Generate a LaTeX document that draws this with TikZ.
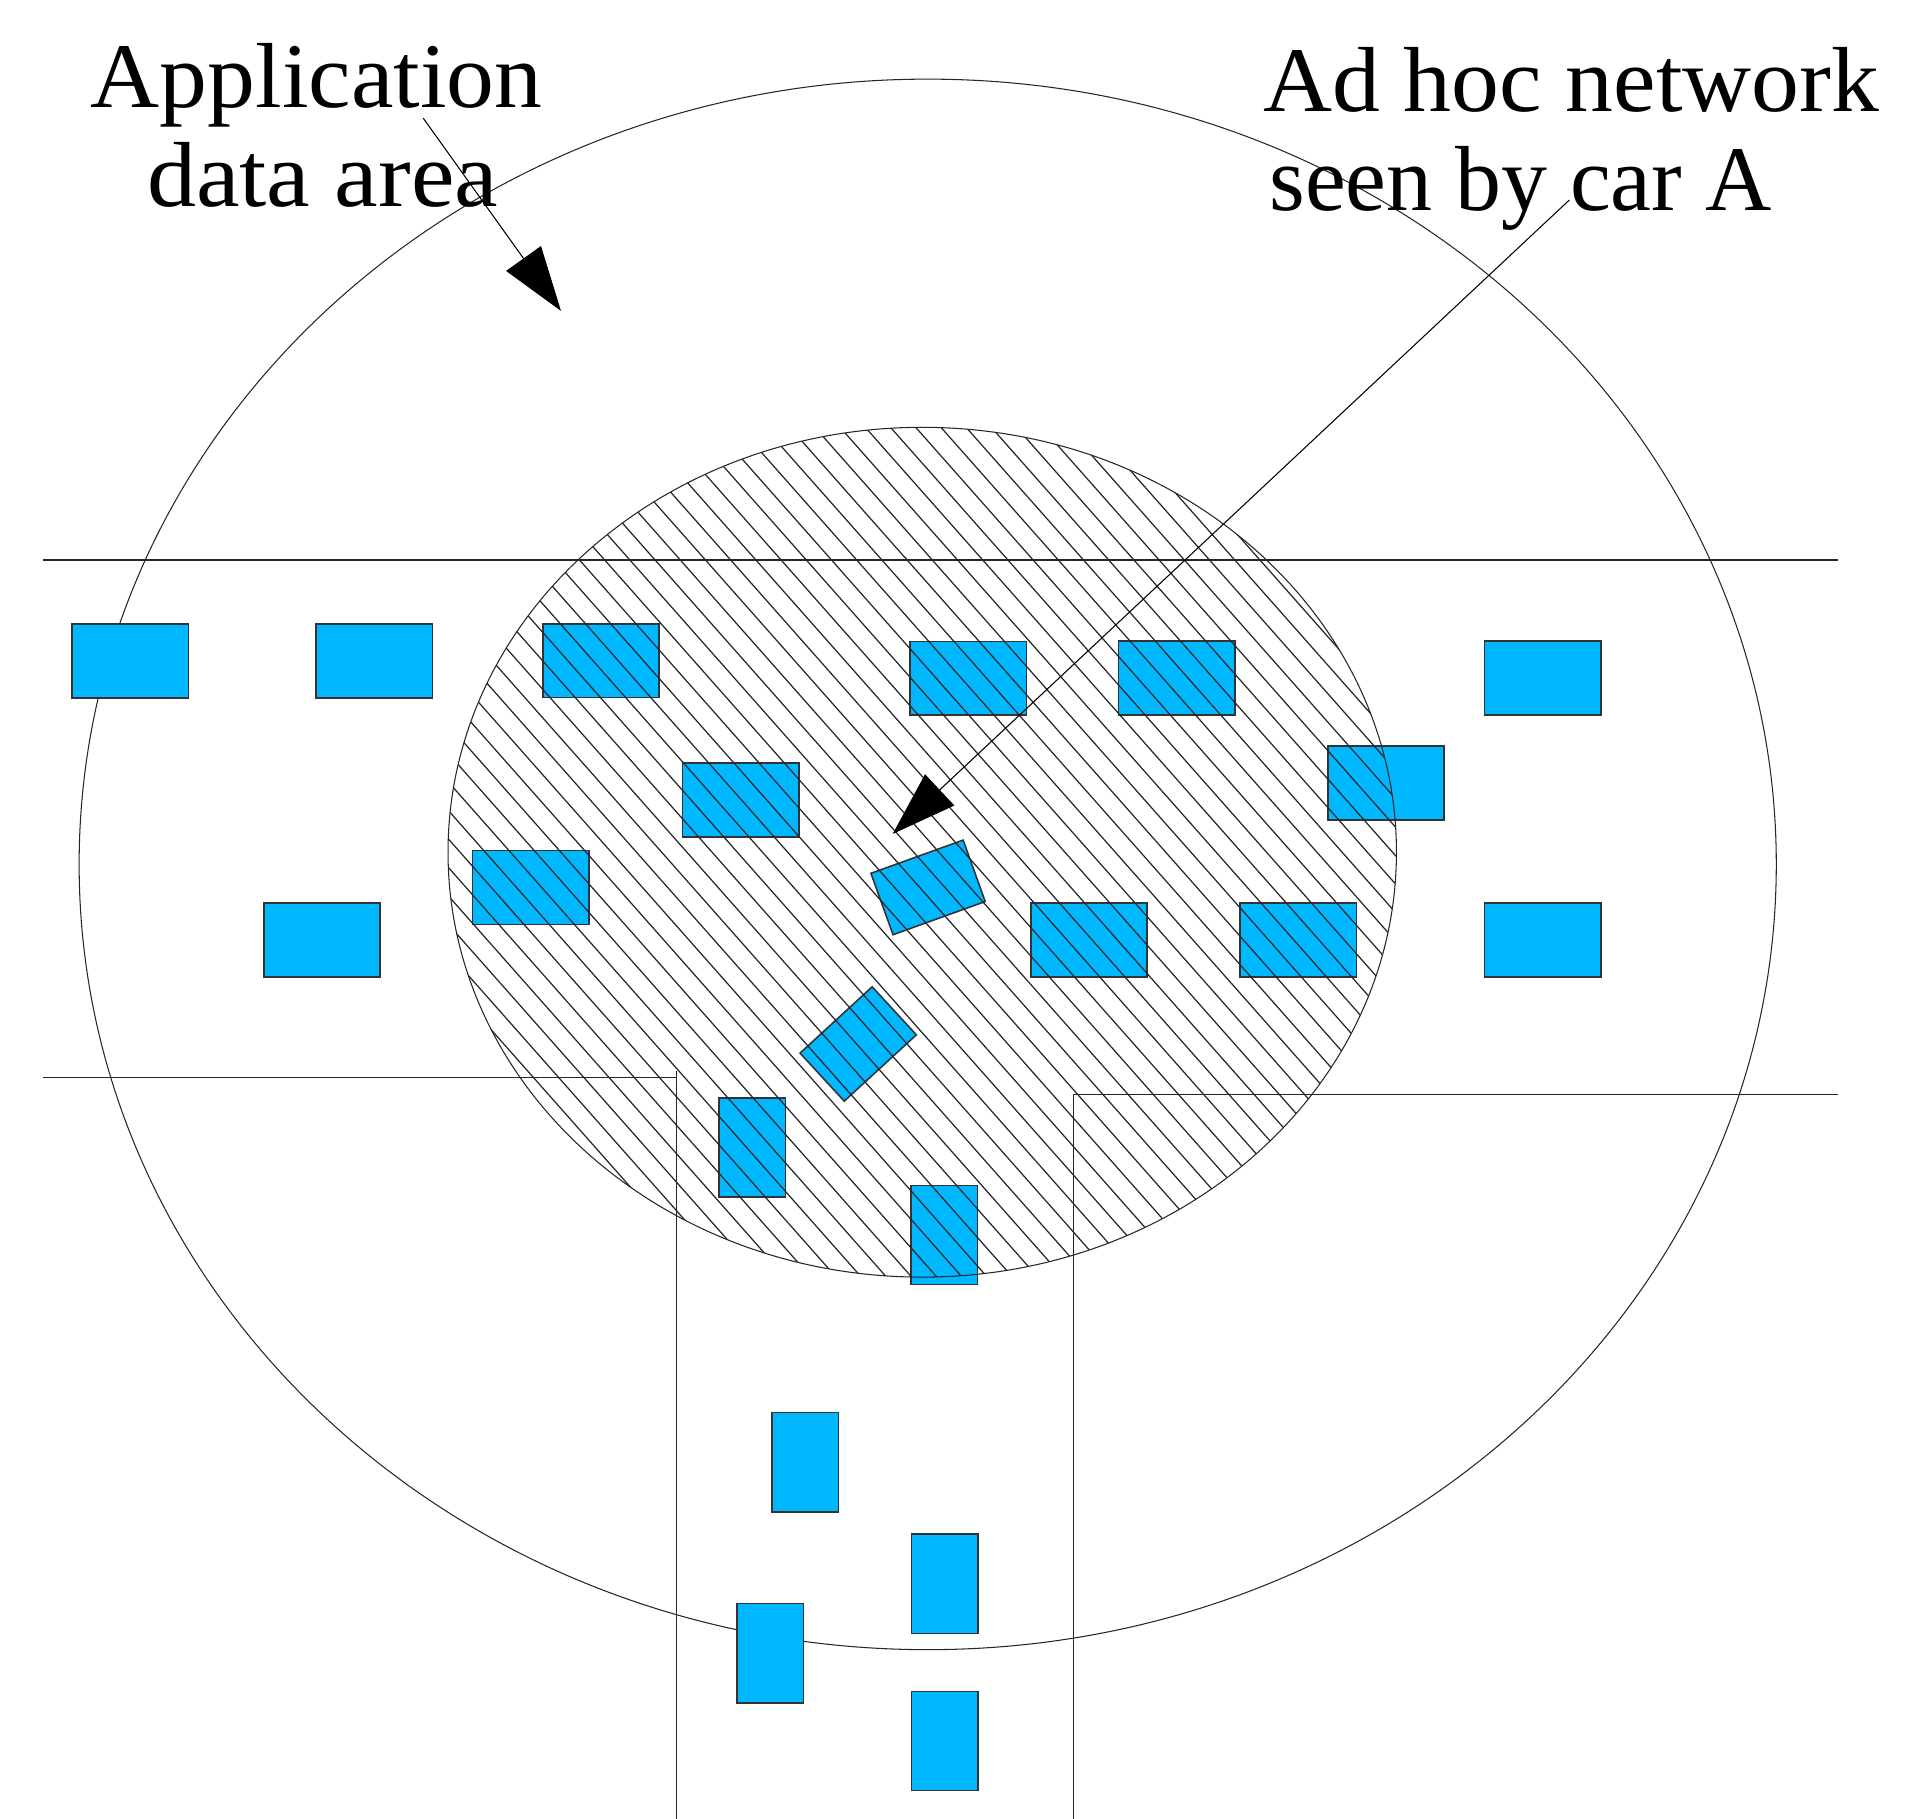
\documentclass[tikz,border=0pt]{standalone}
\usepackage{fontspec}
\setmainfont{Liberation Serif}[FakeStretch=1.035]
\usetikzlibrary{arrows.meta}
\definecolor{carblue}{RGB}{0,184,255}
\begin{document}
\begin{tikzpicture}[x=0.012175cm,y=-0.012175cm,
  thinline/.style={draw=black!85,line width=0.3pt},
  hatchline/.style={draw=black!85,line width=0.35pt},
  carbox/.style={draw=black!80,line width=0.45pt,fill=carblue,inner sep=0pt,outer sep=0pt},
  hcar/.style={carbox,minimum width=1.164cm,minimum height=0.737cm},
  vcar/.style={carbox,minimum width=0.666cm,minimum height=0.993cm},
  tcar/.style={carbox,minimum width=0.980cm,minimum height=0.653cm},
  lbl/.style={font=\fontsize{26.3pt}{28pt}\selectfont,inner sep=0pt},
  pointer/.style={line width=0.3pt,-{Triangle[length=0.645cm,width=0.426cm]}}]
\useasboundingbox (0,0) rectangle (1568,1494);
% roads
\draw[thinline] (35,460) -- (1510,460);
\draw[thinline] (35,885) -- (556,885);
\draw[thinline] (556,880) -- (556,1494);
\draw[thinline] (1510,899) -- (882,899) -- (882,1494);
% application data area
\draw[thinline] (762,710) ellipse [x radius=697, y radius=645];
% cars
\node[hcar] (c1) at (107,543) {};
\node[hcar] (c2) at (307.5,543) {};
\node[hcar] (c3) at (493.7,542.6) {};
\node[hcar] (c4) at (795.2,557.2) {};
\node[hcar] (c5) at (966.5,557) {};
\node[hcar] (c6) at (1267,557) {};
\node[hcar] (c7) at (608.5,657) {};
\node[hcar] (c8) at (1138.4,643.1) {};
\node[hcar] (c9) at (436,729) {};
\node[tcar,rotate=19.8] (carA) at (762.3,728.9) {};
\node[hcar] (c11) at (264.5,772) {};
\node[hcar] (c12) at (894.5,772) {};
\node[hcar] (c13) at (1066.5,772) {};
\node[hcar] (c14) at (1267,772) {};
\node[tcar,rotate=42.6] (c15) at (704.9,857.5) {};
\node[vcar] (c16) at (618,942.5) {};
\node[vcar] (c17) at (775.6,1014.4) {};
\node[vcar] (c18) at (661.5,1201) {};
\node[vcar] (c19) at (776,1301) {};
\node[vcar] (c20) at (632.5,1358) {};
\node[vcar] (c21) at (776,1430) {};
% ad hoc network (hatched)
\begin{scope}
  \clip (757.5,700) ellipse [x radius=389.5, y radius=349];
  \foreach \k in {-35,...,38} {
    \draw[hatchline] ({369.8+\k*20.7},340) -- ++(708,800);
  }
\end{scope}
\draw[thinline] (757.5,700) ellipse [x radius=389.5, y radius=349];
% labels
\node[lbl,anchor=base] (app1) at (260,88.2) {Application};
\node[lbl,anchor=base] (app2) at (265,169.7) {\scalebox{1.025}[1]{data area}};
\node[lbl,anchor=base west] (adh1) at (1037,91.7) {Ad hoc network};
\node[lbl,anchor=base west] (adh2) at (1042,172.5) {\scalebox{0.96}[1]{seen by car A}};
% pointers
\coordinate (appfrom) at (347.6,97);
\coordinate (apptip) at (460.8,255.4);
\draw[pointer] (appfrom) -- (apptip);
\coordinate (adhfrom) at (1289,164.3);
\coordinate (adhtip) at (733.2,685);
\draw[pointer] (adhfrom) -- (adhtip);
\end{tikzpicture}
\end{document}
